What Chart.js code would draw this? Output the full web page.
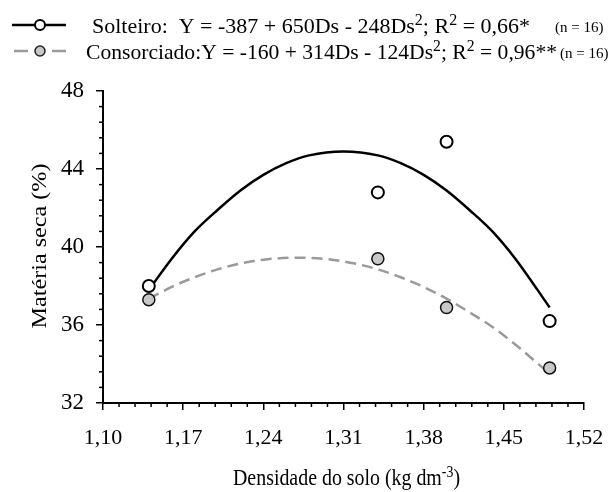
<!DOCTYPE html>
<html>
<head>
<meta charset="utf-8">
<script src="https://cdn.jsdelivr.net/npm/chart.js@4"></script>
<style>
  html, body { margin: 0; padding: 0; background: #fff; }
  #wrap { position: relative; width: 613px; height: 492px; }
</style>
</head>
<body>
<div id="wrap"><canvas id="chart"></canvas></div>
<script>
// observed densities and dry matter values
const densidade = [1.14, 1.34, 1.40, 1.49];
const solteiro = [38.0, 42.8, 45.4, 36.2];
const consorciado = [37.3, 39.4, 36.9, 33.8];

// fitted curves
const solteiroCurvaX = [1.14, 1.16, 1.18, 1.20, 1.22, 1.24, 1.26, 1.28, 1.31, 1.34, 1.36, 1.38, 1.40, 1.42, 1.44, 1.46, 1.49];
const solteiroCurvaY = [37.8, 39.4, 40.8, 41.9, 42.9, 43.7, 44.3, 44.7, 44.9, 44.7, 44.3, 43.7, 42.9, 41.9, 40.8, 39.4, 36.9];
const consorciadoCurvaX = [1.14, 1.16, 1.18, 1.20, 1.22, 1.24, 1.27, 1.30, 1.32, 1.34, 1.36, 1.38, 1.40, 1.42, 1.44, 1.46, 1.49];
const consorciadoCurvaY = [37.35, 37.95, 38.45, 38.85, 39.15, 39.35, 39.45, 39.35, 39.15, 38.85, 38.45, 37.95, 37.35, 36.65, 35.9, 35.0, 33.5];

// axis ticks
const xTicks = [1.10, 1.17, 1.24, 1.31, 1.38, 1.45, 1.52];
const yTicks = [32, 36, 40, 44, 48];

const serif = "'Liberation Serif', 'Times New Roman', serif";
const pts = (xs, ys) => xs.map((x, i) => ({ x, y: ys[i] }));

// text with superscripts, optionally squeezed to a width
function richText(ctx, x, y, parts, width, align) {
  let total = 0;
  parts.forEach(p => {
    ctx.font = p.size + 'px ' + serif;
    p.w = ctx.measureText(p.t).width;
    total += p.w;
  });
  const s = width ? width / total : 1;
  ctx.save();
  ctx.translate(align === 'center' ? x - total * s / 2 : x, y);
  ctx.scale(s, 1);
  ctx.fillStyle = '#000';
  ctx.textBaseline = 'alphabetic';
  let cx = 0;
  parts.forEach(p => {
    ctx.font = p.size + 'px ' + serif;
    ctx.fillText(p.t, cx, p.sup ? -8 : 0);
    cx += p.w;
  });
  ctx.restore();
}

const extras = {
  id: 'extras',
  afterDraw(chart) {
    const ctx = chart.ctx;
    const xs = chart.scales.x, ys = chart.scales.y;
    const area = chart.chartArea;

    // minor ticks
    ctx.save();
    ctx.strokeStyle = '#000';
    ctx.lineWidth = 1.5;
    for (let k = 0; k <= 30; k++) {
      if (k % 5 === 0) continue;
      const px = xs.getPixelForValue(1.10 + k * 0.014);
      ctx.beginPath(); ctx.moveTo(px, area.bottom); ctx.lineTo(px, area.bottom + 4); ctx.stroke();
    }
    for (let k = 0; k <= 20; k++) {
      if (k % 5 === 0) continue;
      const py = ys.getPixelForValue(32 + k * 0.8);
      ctx.beginPath(); ctx.moveTo(area.left, py); ctx.lineTo(area.left - 4, py); ctx.stroke();
    }
    ctx.restore();

    // legend samples
    ctx.save();
    ctx.lineWidth = 2.5;
    ctx.strokeStyle = '#000';
    ctx.beginPath(); ctx.moveTo(12, 25); ctx.lineTo(66, 25); ctx.stroke();
    ctx.beginPath(); ctx.arc(40, 25, 5, 0, Math.PI * 2);
    ctx.fillStyle = '#fff'; ctx.fill(); ctx.lineWidth = 2; ctx.stroke();

    ctx.strokeStyle = '#9a9a9a';
    ctx.lineWidth = 2.5;
    ctx.beginPath(); ctx.moveTo(14, 51); ctx.lineTo(28, 51); ctx.moveTo(52, 51); ctx.lineTo(66, 51); ctx.stroke();
    ctx.beginPath(); ctx.arc(40, 51, 5, 0, Math.PI * 2);
    ctx.fillStyle = '#c8c8c8'; ctx.fill(); ctx.strokeStyle = '#222'; ctx.lineWidth = 1.5; ctx.stroke();
    ctx.restore();

    // legend texts
    richText(ctx, 92, 33, [
      { t: 'Solteiro:  Y = -387 + 650Ds - 248Ds', size: 22 },
      { t: '2', size: 16, sup: true },
      { t: '; R', size: 22 },
      { t: '2', size: 16, sup: true },
      { t: ' = 0,66*', size: 22 }
    ], 438);
    richText(ctx, 555, 32, [{ t: '(n = 16)', size: 15 }]);
    richText(ctx, 86, 59, [
      { t: 'Consorciado:Y = -160 + 314Ds - 124Ds', size: 22 },
      { t: '2', size: 16, sup: true },
      { t: '; R', size: 22 },
      { t: '2', size: 16, sup: true },
      { t: ' = 0,96**', size: 22 }
    ], 471);
    richText(ctx, 560, 58, [{ t: '(n = 16)', size: 15 }]);

    // axis titles
    richText(ctx, (area.left + area.right) / 2 + 3, 485, [
      { t: 'Densidade do solo (kg dm', size: 23 },
      { t: '-3', size: 16, sup: true },
      { t: ')', size: 23 }
    ], 227, 'center');
    ctx.save();
    ctx.translate(40, 246);
    ctx.rotate(-Math.PI / 2);
    ctx.scale(1.15, 1);
    ctx.font = '21px ' + serif;
    ctx.fillStyle = '#000';
    ctx.textAlign = 'center';
    ctx.textBaseline = 'middle';
    ctx.fillText('Matéria seca (%)', 0, 0);
    ctx.restore();
  }
};

new Chart(document.getElementById('chart'), {
  type: 'scatter',
  data: {
    datasets: [
      {
        label: 'Solteiro ajuste',
        type: 'line',
        data: pts(solteiroCurvaX, solteiroCurvaY),
        borderColor: '#000',
        borderWidth: 2.5,
        pointRadius: 0,
        cubicInterpolationMode: 'monotone',
        fill: false,
        order: 3
      },
      {
        label: 'Consorciado ajuste',
        type: 'line',
        data: pts(consorciadoCurvaX, consorciadoCurvaY),
        borderColor: '#9a9a9a',
        borderWidth: 2.5,
        borderDash: [11, 6],
        pointRadius: 0,
        cubicInterpolationMode: 'monotone',
        fill: false,
        order: 4
      },
      {
        label: 'Solteiro',
        data: pts(densidade, solteiro),
        backgroundColor: '#fff',
        borderColor: '#000',
        borderWidth: 2,
        pointRadius: 6,
        order: 1
      },
      {
        label: 'Consorciado',
        data: pts(densidade, consorciado),
        backgroundColor: '#c8c8c8',
        borderColor: '#111',
        borderWidth: 1.5,
        pointRadius: 6,
        order: 2
      }
    ]
  },
  options: {
    responsive: true,
    maintainAspectRatio: false,
    animation: false,
    layout: { padding: { top: 91, right: 29, left: 0, bottom: 0 } },
    plugins: { legend: { display: false }, tooltip: { enabled: false } },
    scales: {
      x: {
        type: 'linear',
        min: 1.10,
        max: 1.52,
        afterBuildTicks: s => { s.ticks = xTicks.map(v => ({ value: v })); },
        afterFit: s => { s.height = 89; s.paddingRight = 0; s.paddingLeft = 0; },
        border: { display: true, color: '#000', width: 2 },
        grid: { display: true, drawOnChartArea: false, drawTicks: true, tickLength: 7, color: '#000', lineWidth: 1.5 },
        ticks: {
          color: '#000',
          padding: 15,
          maxRotation: 0,
          font: { family: serif, size: 22 },
          callback: v => v.toFixed(2).replace('.', ',')
        }
      },
      y: {
        min: 32,
        max: 48,
        afterBuildTicks: s => { s.ticks = yTicks.map(v => ({ value: v })); },
        afterFit: s => { s.width = 103; s.paddingTop = 0; s.paddingBottom = 0; },
        border: { display: true, color: '#000', width: 2 },
        grid: { display: true, drawOnChartArea: false, drawTicks: true, tickLength: 7, color: '#000', lineWidth: 1.5 },
        ticks: {
          color: '#000',
          padding: 12,
          font: { family: serif, size: 23 },
          callback: v => String(v)
        }
      }
    }
  },
  plugins: [extras]
});
</script>
</body>
</html>
